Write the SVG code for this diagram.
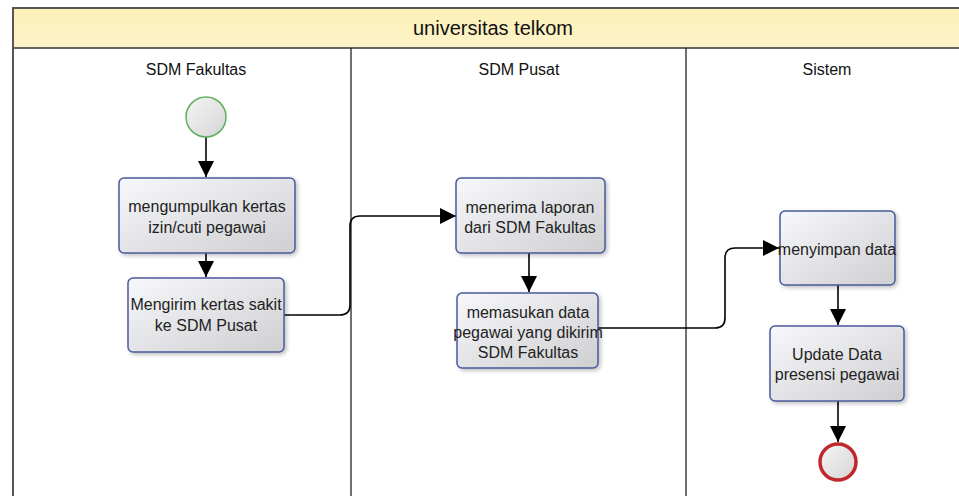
<svg xmlns="http://www.w3.org/2000/svg" width="959" height="496" viewBox="0 0 959 496">
<defs>
<linearGradient id="boxg" x1="0" y1="0" x2="1" y2="1">
<stop offset="0" stop-color="#f7f8fb"/>
<stop offset="1" stop-color="#cfcfd2"/>
</linearGradient>
<linearGradient id="circg" x1="0" y1="0" x2="1" y2="1">
<stop offset="0" stop-color="#f6f6f6"/>
<stop offset="1" stop-color="#d4d4d6"/>
</linearGradient>
<linearGradient id="hdrg" x1="0" y1="0" x2="0" y2="1">
<stop offset="0" stop-color="#fdf0b6"/>
<stop offset="1" stop-color="#fdf3c9"/>
</linearGradient>
<filter id="sh" x="-10%" y="-10%" width="130%" height="130%">
<feGaussianBlur in="SourceAlpha" stdDeviation="2"/>
<feOffset dx="2" dy="2" result="b"/>
<feComponentTransfer><feFuncA type="linear" slope="0.25"/></feComponentTransfer>
<feMerge><feMergeNode/><feMergeNode in="SourceGraphic"/></feMerge>
</filter>
<marker id="arrb" viewBox="0 0 16 16" refX="16" refY="8" markerWidth="16" markerHeight="16" markerUnits="userSpaceOnUse" orient="auto">
<path d="M0,0 L16,8 L0,16 Z" fill="#000"/>
</marker>
</defs>
<style>
.box{fill:url(#boxg);stroke:#4a5a9c;stroke-width:1.5;filter:url(#sh)}
.t{font-family:"Liberation Sans",Arial,sans-serif;font-size:16px;fill:#222;text-anchor:middle}
.lane{font-family:"Liberation Sans",Arial,sans-serif;font-size:16px;fill:#111;text-anchor:middle}
.title{font-family:"Liberation Sans",Arial,sans-serif;font-size:20px;fill:#111;text-anchor:middle}
.c{fill:none;stroke:#000;stroke-width:1.6}
</style>
<rect width="959" height="496" fill="#fff"/>
<g id="pool">
<rect x="13" y="8" width="950" height="40" fill="url(#hdrg)"/>
<line x1="13" y1="8" x2="959" y2="8" stroke="#555" stroke-width="2"/>
<line x1="13" y1="48" x2="959" y2="48" stroke="#333" stroke-width="1.5"/>
<line x1="13" y1="7" x2="13" y2="496" stroke="#555" stroke-width="2"/>
<line x1="351" y1="48" x2="351" y2="496" stroke="#111" stroke-width="1.2"/>
<line x1="686" y1="48" x2="686" y2="496" stroke="#111" stroke-width="1.2"/>
<text class="title" x="493" y="35">universitas telkom</text>
<text class="lane" x="196" y="75">SDM Fakultas</text>
<text class="lane" x="519" y="75">SDM Pusat</text>
<text class="lane" x="827" y="75">Sistem</text>
</g>
<g id="connectors">
<path class="c" d="M206,137 V177" marker-end="url(#arrb)"/>
<path class="c" d="M206,253 V277" marker-end="url(#arrb)"/>
<path class="c" d="M284,315 H340 Q350,315 350,305 V226 Q350,216 360,216 H456" marker-end="url(#arrb)"/>
<path class="c" d="M529,253 V292" marker-end="url(#arrb)"/>
<path class="c" d="M598,328 H715 Q725,328 725,318 V258 Q725,248 735,248 H779" marker-end="url(#arrb)"/>
<path class="c" d="M838,285 V325" marker-end="url(#arrb)"/>
<path class="c" d="M838,401 V442" marker-end="url(#arrb)"/>
</g>
<g id="start">
<circle cx="206" cy="117" r="20" fill="url(#circg)" stroke="#5fae5f" stroke-width="1.5"/>
</g>
<g id="n1">
<rect class="box" x="119" y="178" width="176" height="75" rx="5"/>
<text class="t" x="207" y="212">mengumpulkan kertas</text>
<text class="t" x="207" y="233">izin/cuti pegawai</text>
</g>
<g id="n2">
<rect class="box" x="128" y="278" width="156" height="74" rx="5"/>
<text class="t" x="206" y="310">Mengirim kertas sakit</text>
<text class="t" x="206" y="331">ke SDM Pusat</text>
</g>
<g id="n3">
<rect class="box" x="456" y="178" width="149" height="75" rx="5"/>
<text class="t" x="530" y="213">menerima laporan</text>
<text class="t" x="530" y="233">dari SDM Fakultas</text>
</g>
<g id="n4">
<rect class="box" x="457" y="293" width="141" height="75" rx="5"/>
<text class="t" x="528" y="318">memasukan data</text>
<text class="t" x="528" y="338">pegawai yang dikirim</text>
<text class="t" x="528" y="358">SDM Fakultas</text>
</g>
<g id="n5">
<rect class="box" x="780" y="211" width="115" height="74" rx="5"/>
<text class="t" x="837" y="255">menyimpan data</text>
</g>
<g id="n6">
<rect class="box" x="770" y="326" width="134" height="75" rx="5"/>
<text class="t" x="837" y="360">Update Data</text>
<text class="t" x="837" y="380">presensi pegawai</text>
</g>
<g id="end">
<circle cx="838" cy="462" r="18" fill="url(#circg)" stroke="#c0282d" stroke-width="3.5"/>
</g>
</svg>
